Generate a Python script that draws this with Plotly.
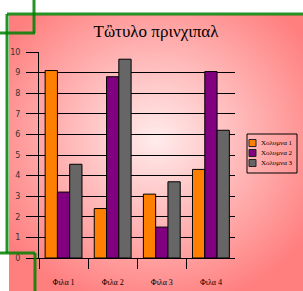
import plotly.graph_objects as go
import urllib.parse

categories = ["Φιλα 1", "Φιλα 2", "Φιλα 3", "Φιλα 4"]
series_names = ["Χολυμνα 1", "Χολυμνα 2", "Χολυμνα 3"]
col1 = [9.1, 2.4, 3.1, 4.3]
col2 = [3.2, 8.8, 1.5, 9.05]
col3 = [4.55, 9.65, 3.7, 6.2]
colors = ["#ff8000", "#800080", "#666666"]
title_text = "Τὢτυλο πρινχιπαλ"

W, H = 303, 291
L, R, T, B = 39, 235, 52, 258
pw, ph = R - L, B - T

def px(X):
    return (X - L) / pw

def py(Y):
    return (B - Y) / ph

fig = go.Figure()
for name, vals, c in zip(series_names, [col1, col2, col3], colors):
    fig.add_trace(go.Bar(x=categories, y=vals, name=name, showlegend=False,
                         marker=dict(color=c, line=dict(color="black", width=1))))

svg = ("<svg xmlns='http://www.w3.org/2000/svg' width='294' height='276' preserveAspectRatio='none' viewBox='0 0 294 276'>"
       "<defs><radialGradient id='g' cx='50%' cy='45%' r='62%'>"
       "<stop offset='0' stop-color='#ffecec'/><stop offset='1' stop-color='#ff7f7f'/>"
       "</radialGradient></defs><rect width='294' height='276' fill='url(#g)'/></svg>")
src = "data:image/svg+xml;charset=utf-8," + urllib.parse.quote(svg)

fig.add_layout_image(dict(source=src, xref="paper", yref="paper",
                          x=px(9), y=py(15), sizex=(W - 9) / pw, sizey=(H - 15) / ph,
                          xanchor="left", yanchor="top", sizing="stretch", layer="below"))

# custom legend (box, swatches, real text)
fig.add_shape(type="rect", xref="paper", yref="paper",
              x0=px(247), x1=px(297), y0=py(134), y1=py(173),
              line=dict(color="black", width=1), fillcolor="rgba(0,0,0,0)", layer="above")
row_y = [143, 153, 163]
for name, c, yy in zip(series_names, colors, row_y):
    fig.add_shape(type="rect", xref="paper", yref="paper",
                  x0=px(249), x1=px(256), y0=py(yy - 3.5), y1=py(yy + 3.5),
                  line=dict(color="#222222", width=1), fillcolor=c, layer="above")
    fig.add_annotation(text=name, xref="paper", yref="paper", x=px(258.5), y=py(yy),
                       xanchor="left", yanchor="middle", showarrow=False,
                       font=dict(family="Liberation Serif", size=7, color="black"))

green = "rgba(0,128,0,0.85)"
segs = [
    (0, 33, 35, 33), (34, 0, 34, 33),
    (7, 14, 303, 14), (7, 14, 7, 253),
    (0, 253, 35, 253), (35, 253, 35, 291),
]
for x0, y0, x1, y1 in segs:
    fig.add_shape(type="line", xref="paper", yref="paper",
                  x0=px(x0), y0=py(y0), x1=px(x1), y1=py(y1),
                  line=dict(color=green, width=3), layer="above")

fig.update_layout(
    width=W, height=H,
    margin=dict(l=L, r=W - R, t=T, b=H - B, pad=0, autoexpand=False),
    paper_bgcolor="white", plot_bgcolor="rgba(0,0,0,0)",
    barmode="group", bargap=0.25, bargroupgap=0,
    title=dict(text=title_text, x=px(156), xref="paper", xanchor="center",
               y=1 - 31 / H, yanchor="middle",
               font=dict(family="Liberation Serif", size=17, color="black")),
    showlegend=False,
)
fig.update_yaxes(range=[0, 10], dtick=1, showgrid=True, gridcolor="black", gridwidth=1,
                 showline=True, linecolor="black", linewidth=1,
                 ticks="outside", ticklen=12, tickcolor="black", ticklabelstandoff=4,
                 tickfont=dict(family="DejaVu Sans", size=8, color="#333333"),
                 zeroline=False, fixedrange=True)
fig.update_xaxes(range=[-0.5, 3.49], showline=True, linecolor="black", linewidth=1,
                 ticks="outside", ticklen=10, tickcolor="black", tickson="boundaries",
                 ticklabelstandoff=16,
                 tickfont=dict(family="Liberation Serif", size=8, color="black"),
                 showgrid=False, fixedrange=True)

fig.write_html("out.html", config={"displayModeBar": False, "staticPlot": True},
               post_script="document.body.style.margin='0';document.body.style.overflow='hidden';")
